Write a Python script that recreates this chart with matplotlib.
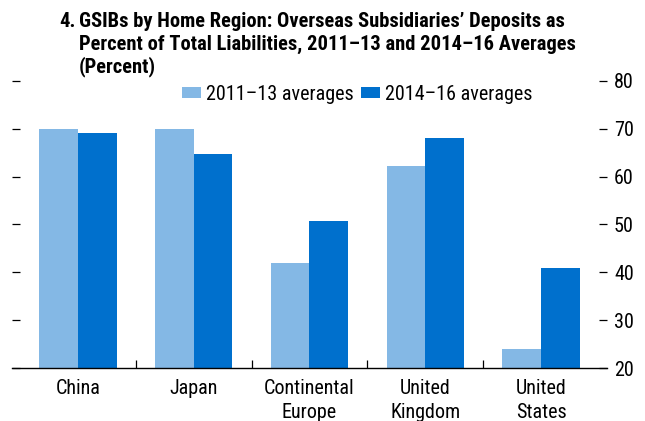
import matplotlib
matplotlib.use("Agg")
import matplotlib.pyplot as plt
import numpy as np

regions = ["China", "Japan", "Continental\nEurope", "United\nKingdom", "United\nStates"]
avg_2011_13 = [70.0, 70.0, 41.9, 62.3, 24.0]
avg_2014_16 = [69.2, 64.8, 50.7, 68.1, 41.0]
series_labels = ["2011–13 averages", "2014–16 averages"]
yticks = [20, 30, 40, 50, 60, 70, 80]

title_num = "4."
title_lines = ["GSIBs by Home Region: Overseas Subsidiaries’ Deposits as",
               "Percent of Total Liabilities, 2011–13 and 2014–16 Averages",
               "(Percent)"]

plt.rcParams["font.family"] = ["Roboto Condensed", "Archivo Narrow", "PT Sans Narrow",
                               "Liberation Sans Narrow", "DejaVu Sans"]

light = "#84B8E5"
dark = "#0070CD"
fs = 14.5

fig = plt.figure(figsize=(6.45, 4.21), dpi=100)
ax = fig.add_axes([12 / 645, 53 / 421, 595 / 645, 287 / 421])

x = np.arange(len(regions))
w = 1 / 3
ax.bar(x - w / 2, avg_2011_13, w, color=light, label=series_labels[0])
ax.bar(x + w / 2, avg_2014_16, w, color=dark, label=series_labels[1])

ax.set_ylim(20, 80)
ax.set_xlim(-0.57, len(regions) - 0.43)

for s in ["top", "left", "right"]:
    ax.spines[s].set_visible(False)
ax.spines["bottom"].set_linewidth(1.0)

ax.set_yticks(yticks)
ax.tick_params(axis="y", which="both", direction="in", length=6, width=0.9,
               left=True, right=True, labelleft=False, labelright=True,
               labelsize=fs, pad=5)

ax.set_xticks(x)
ax.set_xticklabels(regions, fontsize=fs, linespacing=1.3)
ax.tick_params(axis="x", which="major", length=0, pad=8)
ax.set_xticks(x[:-1] + 0.5, minor=True)
ax.tick_params(axis="x", which="minor", direction="in", length=6, width=0.9)

# title with hanging indent after the chart number
fig.text(59 / 645, 1 - 27 / 421, title_num, ha="left", va="baseline",
         fontsize=14.8, fontweight="bold")
for i, line in enumerate(title_lines):
    fig.text(79 / 645, 1 - (27 + 22.5 * i) / 421, line, ha="left", va="baseline",
             fontsize=14.8, fontweight="bold")

fig.legend(loc="center", bbox_to_anchor=(357 / 645, 1 - 94 / 421), ncol=2,
           frameon=False, fontsize=fs, handlelength=0.95, handleheight=0.5,
           handletextpad=0.25, columnspacing=0.35, borderaxespad=0)

fig.savefig("out.png", dpi=100)
